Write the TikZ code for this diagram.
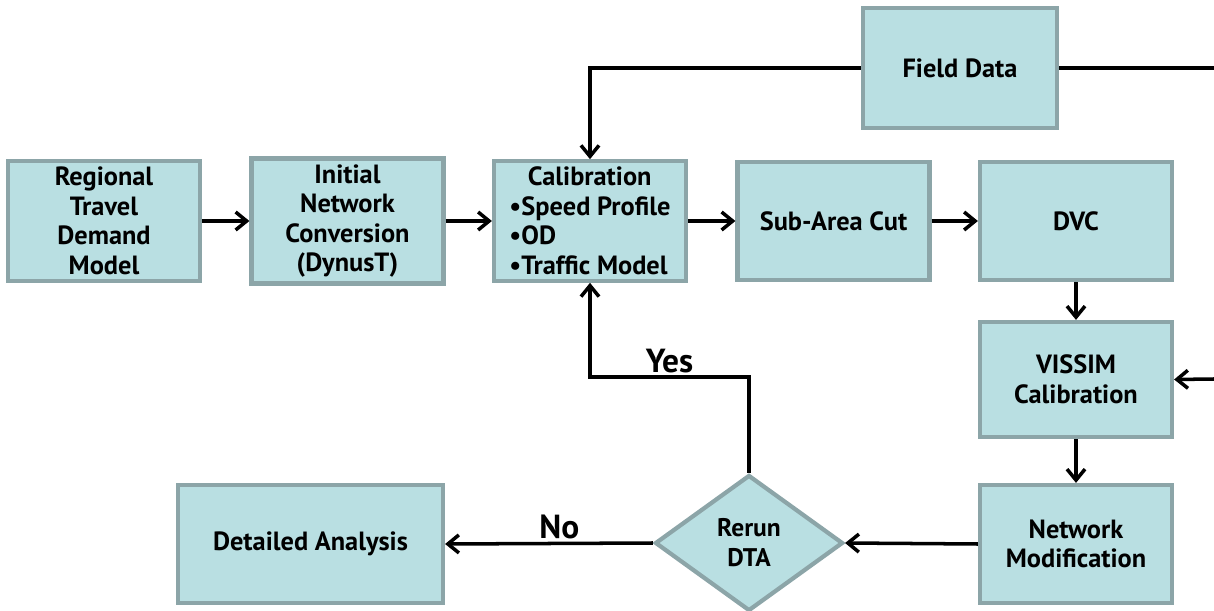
\documentclass[tikz,border=0pt]{standalone}
\usepackage{fontspec}
\setmainfont{PT Sans}
\usepackage{tikz}
\usetikzlibrary{arrows.meta,shapes.geometric,positioning}

\definecolor{boxfill}{HTML}{B9DFE2}
\definecolor{boxline}{HTML}{8CA5A8}

\begin{document}
\begin{tikzpicture}[
    box/.style={draw=boxline, line width=2.4pt, fill=boxfill, rectangle, minimum width=3.84cm, minimum height=2.36cm, align=center, font=\bfseries\fontsize{15}{16.8}\selectfont},
    decision/.style={draw=boxline, line width=2.4pt, fill=boxfill, diamond, inner sep=0pt, minimum width=3.76cm, minimum height=2.72cm, align=center, font=\bfseries\fontsize{14.5}{17}\selectfont},
    arr/.style={-{Straight Barb[length=2.2mm,width=3.6mm,line width=2pt]}, line width=2pt},
    link/.style={line width=2pt},
    answer/.style={font=\bfseries\fontsize{19}{21}\selectfont}
]
    \useasboundingbox (0,0) rectangle (24.28,-12.22);

    % Main row
    \node[box] (regional) at (2.08,-4.42) {Regional\\Travel\\Demand\\Model};
    \node[box] (initial) at (6.95,-4.42) {Initial\\Network\\Conversion\\(DynusT)};
    \node[box, align=left] (calib) at (11.8,-4.42) {\hspace*{0.7em}Calibration\\\textbullet Speed Profile\\\textbullet OD\\\textbullet Traffic Model};
    \node[box] (subarea) at (16.67,-4.42) {Sub-Area Cut};
    \node[box] (dvc) at (21.52,-4.42) {DVC};

    % Field data on top
    \node[box, minimum width=3.88cm, minimum height=2.4cm] (field) at (19.2,-1.36) {Field Data};

    % Right column
    \node[box, minimum height=2.3cm] (vissim) at (21.52,-7.59) {VISSIM\\Calibration};
    \node[box] (netmod) at (21.52,-10.88) {Network\\Modification};

    % Bottom row
    \node[decision] (rerun) at (14.98,-10.86) {Rerun\\DTA};
    \node[box, minimum width=5.3cm] (detail) at (6.21,-10.88) {Detailed Analysis};

    % Free ends at the right border
    \coordinate (fieldout) at (24.28,-1.36);
    \coordinate (vissimin) at (24.28,-7.58);
    \coordinate (yesbend) at (14.98,-7.54);

    % Connectors
    \draw[arr] (regional) -- (initial);
    \draw[arr] (initial) -- (calib);
    \draw[arr] (calib) -- (subarea);
    \draw[arr] (subarea) -- (dvc);
    \draw[arr] (field.west) -| (calib.north);
    \draw[link] (field.east) -- (fieldout);
    \draw[arr] (dvc) -- (vissim);
    \draw[arr] (vissimin) -- (vissim.east);
    \draw[arr] (vissim) -- (netmod);
    \draw[arr] (netmod.west) -- (rerun.east);
    \draw[arr] (rerun.west) -- node[answer, above, pos=0.45, yshift=-2pt] (no) {No} (detail.east);
    \draw[arr] (rerun.north) -- (yesbend) -| node[answer, above, pos=0.25, yshift=-2pt] (yes) {Yes} (calib.south);
\end{tikzpicture}
\end{document}
